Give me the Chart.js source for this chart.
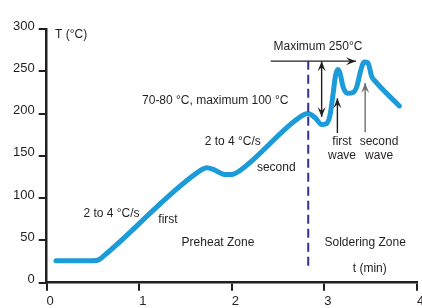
<!DOCTYPE html>
<html>
<head>
<meta charset="utf-8">
<script src="https://cdn.jsdelivr.net/npm/chart.js@4"></script>
<style>
  html, body { margin: 0; padding: 0; background: #fff; }
  canvas { display: block; }
</style>
</head>
<body>
<canvas id="profile" width="422" height="308"></canvas>
<script>
// wave soldering temperature profile
var timeMin = [0.10, 0.50, 0.56, 0.62, 1.65, 1.73, 1.80, 1.92, 2.00, 2.08, 2.75, 2.82, 2.90, 2.97, 3.02,
               3.06, 3.09, 3.12, 3.145, 3.17, 3.20, 3.25, 3.31, 3.35, 3.39, 3.43, 3.47, 3.51, 3.55, 3.81];
var tempC   = [26, 26, 27, 32, 132, 136, 134, 128, 128, 132, 197, 200, 195, 187, 188,
               198, 220, 245, 252, 247, 232, 224, 225, 232, 250, 261, 260, 244, 238, 209];

// dashed zone divider
var dividerTime = [2.825, 2.825];
var dividerTemp = [20, 262];

var xRange = [0, 4];
var yRange = [0, 300];
var yStep = 50;

// text notes: [text, t, T, align]
var notes = [
	["T (°C)", 0.09, 293, "left"],
	["70-80 °C, maximum 100 °C", 1.82, 215, "center"],
	["2 to 4 °C/s", 2.01, 167, "center"],
	["second", 2.48, 136.5, "center"],
	["2 to 4 °C/s", 0.70, 82, "center"],
	["first", 1.31, 75, "center"],
	["Preheat Zone", 1.85, 47, "center"],
	["Soldering Zone", 3.44, 47, "center"],
	["t (min)", 3.49, 16, "center"],
	["Maximum 250°C", 2.93, 279, "center"],
	["first", 3.19, 167, "center"],
	["wave", 3.19, 150, "center"],
	["second", 3.59, 167, "center"],
	["wave", 3.59, 150, "center"]
];

// arrows: [t1, T1, t2, T2, colour, double]
var arrows = [
	[2.42, 262, 3.34, 262, "#231f20", false],
	[2.97, 196, 2.97, 262, "#231f20", true],
	[3.14, 177, 3.14, 218, "#231f20", false],
	[3.44, 178, 3.44, 236, "#6d6e71", false]
];

var ink = "#231f20";
var fontFamily = "'Liberation Sans', Arial, sans-serif";

function toPoints(xs, ys) {
	var pts = [];
	for (var i = 0; i < xs.length; i++) pts.push({ x: xs[i], y: ys[i] });
	return pts;
}

function arrowHead(ctx, x1, y1, x2, y2, color) {
	var a = Math.atan2(y2 - y1, x2 - x1);
	var len = 10, half = 4;
	ctx.save();
	ctx.translate(x2, y2);
	ctx.rotate(a);
	ctx.fillStyle = color;
	ctx.beginPath();
	ctx.moveTo(0, 0);
	ctx.lineTo(-len, -half);
	ctx.lineTo(-len * 0.6, 0);
	ctx.lineTo(-len, half);
	ctx.closePath();
	ctx.fill();
	ctx.restore();
}

var notesPlugin = {
	id: 'notes',
	afterDatasetsDraw: function(chart) {
		var ctx = chart.ctx;
		var sx = chart.scales.x, sy = chart.scales.y;
		ctx.save();
		arrows.forEach(function(a) {
			var x1 = sx.getPixelForValue(a[0]), y1 = sy.getPixelForValue(a[1]);
			var x2 = sx.getPixelForValue(a[2]), y2 = sy.getPixelForValue(a[3]);
			ctx.strokeStyle = a[4];
			ctx.lineWidth = 1.4;
			ctx.beginPath();
			ctx.moveTo(x1, y1);
			ctx.lineTo(x2, y2);
			ctx.stroke();
			arrowHead(ctx, x1, y1, x2, y2, a[4]);
			if (a[5]) arrowHead(ctx, x2, y2, x1, y1, a[4]);
		});
		ctx.fillStyle = ink;
		ctx.font = "12px " + fontFamily;
		ctx.textBaseline = "middle";
		notes.forEach(function(n) {
			ctx.textAlign = n[3];
			ctx.fillText(n[0], sx.getPixelForValue(n[1]), sy.getPixelForValue(n[2]));
		});
		ctx.restore();
	}
};

var ctx = document.getElementById('profile').getContext('2d');
var chart = new Chart(ctx, {
	type: 'line',
	data: {
		datasets: [
			{
				data: toPoints(dividerTime, dividerTemp),
				borderColor: '#2e3192',
				borderWidth: 2,
				borderDash: [9, 5],
				pointRadius: 0,
				order: 0
			},
			{
				data: toPoints(timeMin, tempC),
				borderColor: '#1b9bd8',
				borderWidth: 5,
				borderCapStyle: 'round',
				borderJoinStyle: 'round',
				cubicInterpolationMode: 'monotone',
				pointRadius: 0,
				fill: false,
				order: 1
			}
		]
	},
	options: {
		responsive: false,
		animation: false,
		layout: { padding: { top: 29, right: 5, left: 0, bottom: 0 } },
		plugins: {
			legend: { display: false },
			tooltip: { enabled: false }
		},
		scales: {
			x: {
				type: 'linear',
				min: xRange[0],
				max: xRange[1],
				ticks: { stepSize: 1, color: ink, padding: 3, labelOffset: 3.5, maxRotation: 0,
					font: { size: 13, family: fontFamily } },
				grid: { drawOnChartArea: false, drawTicks: true, tickLength: 8, color: ink, lineWidth: 2 },
				border: { color: ink, width: 2.5 },
				afterFit: function(s) { s.height = 25.3; s.paddingLeft = 0; s.paddingRight = 0; }
			},
			y: {
				min: yRange[0],
				max: yRange[1],
				ticks: { stepSize: yStep, color: ink, padding: 4, labelOffset: -3,
					font: { size: 13, family: fontFamily } },
				grid: { drawOnChartArea: false, drawTicks: true, tickLength: 8, color: ink, lineWidth: 2 },
				border: { color: ink, width: 2.5 },
				afterFit: function(s) { s.width = 46.7; s.paddingTop = 0; s.paddingBottom = 0; }
			}
		}
	},
	plugins: [notesPlugin]
});
</script>
</body>
</html>
